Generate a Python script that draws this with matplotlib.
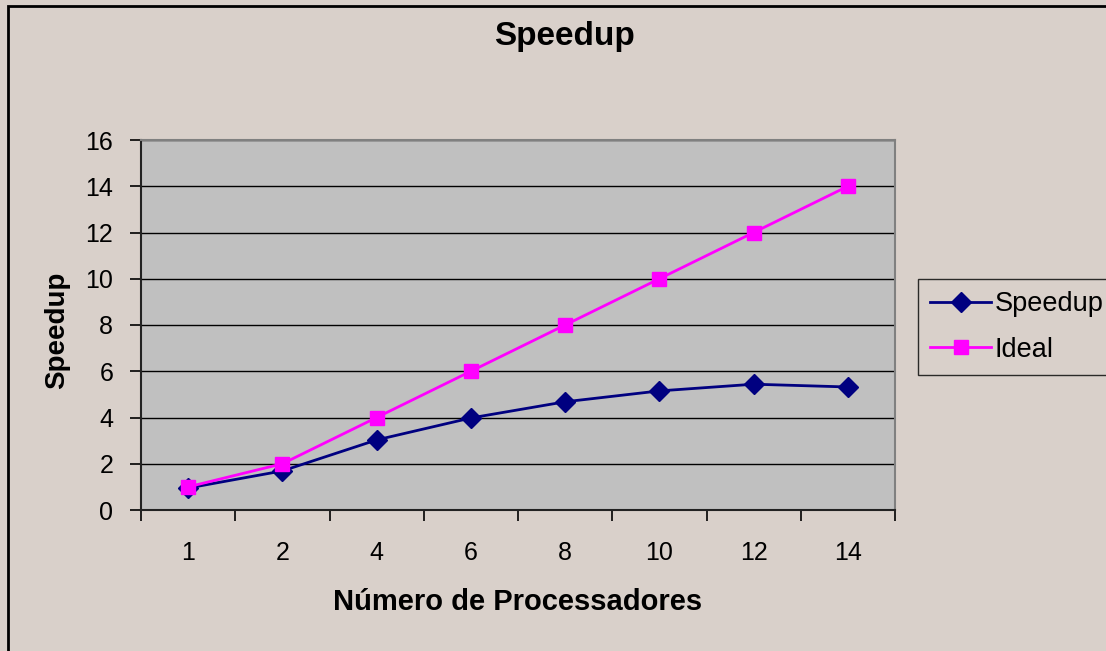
import matplotlib
matplotlib.use("Agg")
import matplotlib.pyplot as plt
from matplotlib.patches import Rectangle

plt.rcParams['font.family'] = ['Liberation Sans', 'DejaVu Sans']

# chart data
processors = ['1', '2', '4', '6', '8', '10', '12', '14']
speedup = [0.95, 1.69, 3.03, 3.98, 4.68, 5.15, 5.44, 5.32]
ideal = [1, 2, 4, 6, 8, 10, 12, 14]

BG = '#D9D0CA'
PLOT_BG = '#C0C0C0'
W, H = 1106, 651

fig = plt.figure(figsize=(W / 100, H / 100), dpi=100)
fig.patch.set_facecolor(BG)

# outer chart border (runs off the right and bottom edges)
fig.patches.append(Rectangle((8 / W, -0.05), 1.2, 1 - 6 / H + 0.05,
                             transform=fig.transFigure, fill=False,
                             edgecolor='black', linewidth=2, zorder=0))

ax = fig.add_axes([141 / W, 1 - 510 / H, 754 / W, 370 / H])
ax.set_facecolor(PLOT_BG)

x = [i + 0.5 for i in range(len(processors))]
ax.plot(x, speedup, color='#000080', linewidth=2, marker='D', markersize=10,
        label='Speedup', zorder=3)
ax.plot(x, ideal, color='#FF00FF', linewidth=2, marker='s', markersize=10,
        label='Ideal', zorder=3)

ax.set_xlim(0, len(processors))
ax.set_ylim(0, 16)
ax.set_yticks(range(0, 17, 2))
ax.set_xticks(range(0, len(processors) + 1))
ax.set_xticklabels([])
ax.set_xticks(x, minor=True)
ax.set_xticklabels(processors, minor=True)
ax.tick_params(axis='x', which='minor', length=0, pad=22, labelsize=18)
ax.tick_params(axis='x', which='major', length=8, direction='out', width=1.2)
ax.tick_params(axis='y', length=8, direction='out', width=1.2, labelsize=18, pad=12)

ax.grid(axis='y', color='black', linewidth=1)
ax.set_axisbelow(True)

for side in ['left', 'bottom']:
    ax.spines[side].set_color('#222222')
    ax.spines[side].set_linewidth(1.5)
for side in ['top', 'right']:
    ax.spines[side].set_color('#808080')
    ax.spines[side].set_linewidth(1.5)

fig.text(564 / W, 1 - 37 / H, 'Speedup', fontsize=24, fontweight='bold',
         ha='center', va='center')
fig.text(518 / W, 1 - 602 / H, 'Número de Processadores', fontsize=21,
         fontweight='bold', ha='center', va='center')
fig.text(57 / W, 1 - 330 / H, 'Speedup', fontsize=20, fontweight='bold',
         ha='center', va='center', rotation=90)

leg = fig.legend(loc='upper left', bbox_to_anchor=(918 / W, 1 - 279 / H),
                 frameon=True, fancybox=False, fontsize=19.5, facecolor=BG,
                 edgecolor='black', handlelength=2.25, borderpad=0.45,
                 labelspacing=0.72, handletextpad=0.12, borderaxespad=0)
leg.get_frame().set_linewidth(1)

fig.savefig('out.png', dpi=100, facecolor=BG)
